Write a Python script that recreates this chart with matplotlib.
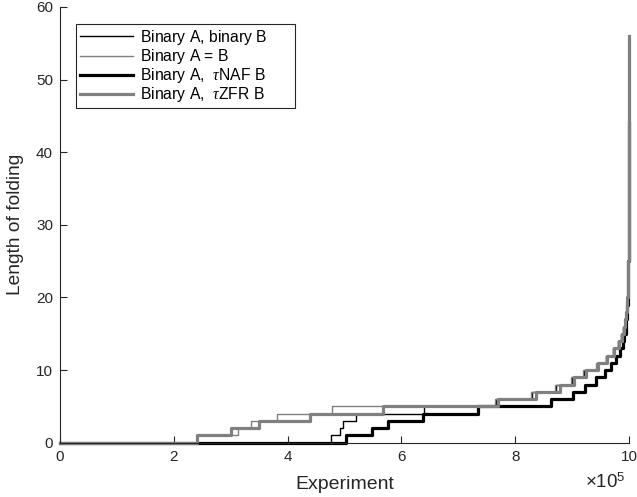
import numpy as np
import matplotlib
matplotlib.use("Agg")
import matplotlib.pyplot as plt

plt.rcParams['font.family'] = ['Liberation Sans', 'DejaVu Sans']
plt.rcParams['mathtext.fontset'] = 'custom'
plt.rcParams['mathtext.rm'] = 'Liberation Sans'
plt.rcParams['mathtext.it'] = 'Liberation Serif:italic'

# x positions in units of 1e5 experiments where each fold length level starts
bin_levels = [0, 1, 2, 3, 4, 5, 6, 7, 8, 9, 10, 11, 12, 13, 14, 15, 16, 17, 18, 19, 20, 25, 30, 35, 40, 46]
bin_starts = [0, 4.76, 4.92, 4.97, 5.21, 6.40, 7.66, 8.30, 8.72, 8.99, 9.21, 9.43, 9.60, 9.72, 9.81,
              9.865, 9.90, 9.925, 9.945, 9.958, 9.967, 9.987, 9.994, 9.997, 9.999, 9.9995]

eq_levels = [0, 1, 2, 3, 4, 5, 6, 7, 8, 9, 10, 11, 12, 13, 14, 15, 16, 17, 18, 19, 20, 25, 30, 35, 40, 46]
eq_starts = [0, 2.41, 3.13, 3.36, 3.82, 4.78, 7.64, 8.28, 8.70, 8.98, 9.20, 9.42, 9.60, 9.72, 9.81,
             9.865, 9.90, 9.925, 9.945, 9.958, 9.967, 9.987, 9.994, 9.997, 9.999, 9.9995]

naf_levels = [0, 1, 2, 3, 4, 5, 6, 7, 8, 9, 10, 11, 12, 13, 14, 15, 16, 17, 18, 19, 20, 25, 30, 35, 40, 44]
naf_starts = [0, 5.02, 5.49, 5.76, 6.38, 7.35, 8.63, 9.01, 9.23, 9.42, 9.57, 9.68, 9.77, 9.84, 9.89,
              9.92, 9.94, 9.955, 9.965, 9.972, 9.978, 9.99, 9.995, 9.998, 9.999, 9.9995]

zfr_levels = [0, 1, 2, 3, 4, 5, 6, 7, 8, 9, 10, 11, 12, 13, 14, 15, 16, 17, 18, 19, 20, 25, 30, 35, 40, 45, 50, 56]
zfr_starts = [0, 2.41, 3.00, 3.50, 4.39, 5.68, 7.70, 8.37, 8.78, 9.04, 9.24, 9.45, 9.62, 9.74, 9.83,
              9.875, 9.91, 9.93, 9.948, 9.96, 9.968, 9.988, 9.994, 9.997, 9.998, 9.999, 9.9995, 9.9998]

x_end = 10.0
labels = [r'Binary A, binary B$\,$', r'Binary A = B$\,$',
          r'Binary A,  $\tau$NAF B', r'Binary A,  $\tau$ZFR B']
xticks = [0, 2, 4, 6, 8, 10]
yticks = [0, 10, 20, 30, 40, 50, 60]

fig = plt.figure(figsize=(6.37, 4.97), dpi=100)
ax = fig.add_axes([60/637, 1-442.7/497, (629-60)/637, (442.7-7)/497])

series = [
    (bin_starts, bin_levels, 'black', 1.0),
    (eq_starts, eq_levels, '#808080', 1.0),
    (naf_starts, naf_levels, 'black', 2.3),
    (zfr_starts, zfr_levels, '#808080', 2.3),
]
for (xs, ys, c, lw), lab in zip(series, labels):
    xx = np.append(np.array(xs, dtype=float), x_end)
    yy = np.append(np.array(ys, dtype=float), ys[-1])
    ax.step(xx, yy, where='post', color=c, lw=lw, label=lab, clip_on=False)

ax.set_xlim(0, 10)
ax.set_ylim(0, 60)
ax.set_xticks(xticks)
ax.set_xticklabels([str(t) for t in xticks])
ax.set_yticks(yticks)
for s in ['top', 'right']:
    ax.spines[s].set_visible(False)
for s in ['left', 'bottom']:
    ax.spines[s].set_color('#262626')
    ax.spines[s].set_linewidth(0.8)
ax.tick_params(direction='in', length=5, width=0.8, colors='#262626', labelsize=11, pad=5)
ax.set_xlabel('Experiment', fontsize=14, color='#262626', labelpad=9)
ax.set_ylabel('Length of folding', fontsize=13.8, color='#262626', labelpad=9)
fig.text(626/637, 1-482/497, r'$\times10^{5}$', fontsize=13.5, color='#262626', ha='right', va='center')

axw = 629 - 60
axh = 442.7 - 7
x0 = (76 - 60) / axw
x1 = (295 - 60) / axw
ytop = (442.7 - 24) / axh
leg = ax.legend(loc='upper left', bbox_to_anchor=(x0, ytop - 0.3, x1 - x0, 0.3), mode='expand',
                borderaxespad=0, fontsize=11.3, frameon=True, fancybox=False, framealpha=1,
                handlelength=3.4, handletextpad=0.4, labelspacing=0.01, borderpad=0.25)
leg.get_frame().set_edgecolor('#262626')
leg.get_frame().set_linewidth(0.8)

fig.savefig('out.png', dpi=100)
